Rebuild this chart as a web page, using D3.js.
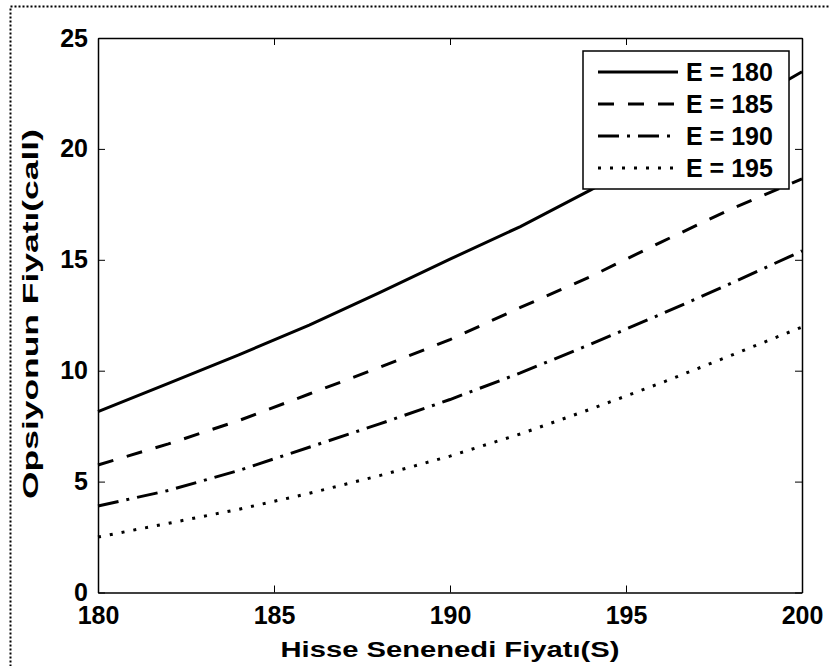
<!DOCTYPE html>
<html>
<head>
<meta charset="utf-8">
<script src="https://cdn.jsdelivr.net/npm/d3@7"></script>
<style>
body { margin: 0; background: #fff; }
text { font-family: "Liberation Sans", Arial, sans-serif; }
</style>
</head>
<body>
<svg width="829" height="666"></svg>
<script>
// stock price S
var S = [180, 182, 184, 186, 188, 190, 192, 194, 196, 198, 200];
// call price for each strike E
var E180 = [8.15, 9.43, 10.71, 12.06, 13.52, 15.03, 16.5, 18.15, 19.88, 21.65, 23.48];
var E185 = [5.75, 6.7, 7.75, 8.95, 10.15, 11.4, 12.85, 14.25, 15.8, 17.3, 18.65];
var E190 = [3.9, 4.6, 5.5, 6.55, 7.6, 8.7, 9.9, 11.2, 12.55, 13.95, 15.4];
var E195 = [2.5, 3.12, 3.75, 4.47, 5.27, 6.15, 7.15, 8.27, 9.45, 10.7, 11.97];
var labels = ["E = 180", "E = 185", "E = 190", "E = 195"];
var xTicks = [180, 185, 190, 195, 200];
var yTicks = [0, 5, 10, 15, 20, 25];

var series = [E180, E185, E190, E195];
var dashes = ["none", "16,14", "21,8,3,8", "3,9"];

var svg = d3.select("svg");

// dotted figure border
svg.append("rect")
  .attr("x", 10.5).attr("y", 6.5)
  .attr("width", 900).attr("height", 900)
  .attr("fill", "none")
  .attr("stroke", "#000")
  .attr("stroke-width", 2)
  .attr("stroke-dasharray", "2,2");

// plot box (note: "top" is taken by window.top)
var pl = 98, pr = 802, pt = 38, pb = 592.5;

var x = d3.scaleLinear().domain([180, 200]).range([pl, pr]);
var y = d3.scaleLinear().domain([0, 25]).range([pb, pt]);

var g = svg.append("g");

// curves
var line = d3.line()
  .x(function(d, i) { return x(S[i]); })
  .y(function(d) { return y(d); });

series.forEach(function(vals, i) {
  g.append("path")
    .datum(vals)
    .attr("d", line)
    .attr("fill", "none")
    .attr("stroke", "#000")
    .attr("stroke-width", 3)
    .attr("stroke-dasharray", dashes[i]);
});

// axes, MATLAB box style with inward ticks
var tl = 7;
g.append("g").attr("transform", "translate(0," + pb + ")")
  .call(d3.axisBottom(x).tickValues(xTicks).tickSize(-tl).tickPadding(14).tickSizeOuter(0));
g.append("g").attr("transform", "translate(0," + pt + ")")
  .call(d3.axisTop(x).tickValues(xTicks).tickSize(-tl).tickFormat("").tickSizeOuter(0));
g.append("g").attr("transform", "translate(" + pl + ",0)")
  .call(d3.axisLeft(y).tickValues(yTicks).tickSize(-tl).tickPadding(10).tickSizeOuter(0));
g.append("g").attr("transform", "translate(" + pr + ",0)")
  .call(d3.axisRight(y).tickValues(yTicks).tickSize(-tl).tickFormat("").tickSizeOuter(0));

g.selectAll(".domain").attr("stroke", "#000").attr("stroke-width", 1.5);
g.selectAll(".tick line").attr("stroke", "#000").attr("stroke-width", 1);
g.selectAll(".tick text")
  .attr("fill", "#000")
  .style("font-size", "25px")
  .style("font-weight", "bold");

// axis labels
svg.append("text")
  .attr("x", 450).attr("y", 657)
  .attr("text-anchor", "middle")
  .attr("textLength", 339)
  .attr("lengthAdjust", "spacingAndGlyphs")
  .style("font-size", "22px").style("font-weight", "bold")
  .text("Hisse Senenedi Fiyatı(S)");

svg.append("text")
  .attr("transform", "translate(38,314) rotate(-90)")
  .attr("text-anchor", "middle")
  .attr("textLength", 370)
  .attr("lengthAdjust", "spacingAndGlyphs")
  .style("font-size", "22px").style("font-weight", "bold")
  .text("Opsiyonun Fiyatı(call)");

// legend
var leg = svg.append("g");
leg.append("rect")
  .attr("x", 583).attr("y", 51)
  .attr("width", 206).attr("height", 138)
  .attr("fill", "#fff")
  .attr("stroke", "#000")
  .attr("stroke-width", 1.5);

labels.forEach(function(lab, i) {
  var ly = 72 + i * 32;
  leg.append("line")
    .attr("x1", 598).attr("x2", 678)
    .attr("y1", ly).attr("y2", ly)
    .attr("stroke", "#000")
    .attr("stroke-width", 3)
    .attr("stroke-dasharray", dashes[i]);
  leg.append("text")
    .attr("x", 686).attr("y", ly)
    .attr("dy", "0.36em")
    .style("font-size", "25px").style("font-weight", "bold")
    .text(lab);
});
</script>
</body>
</html>
